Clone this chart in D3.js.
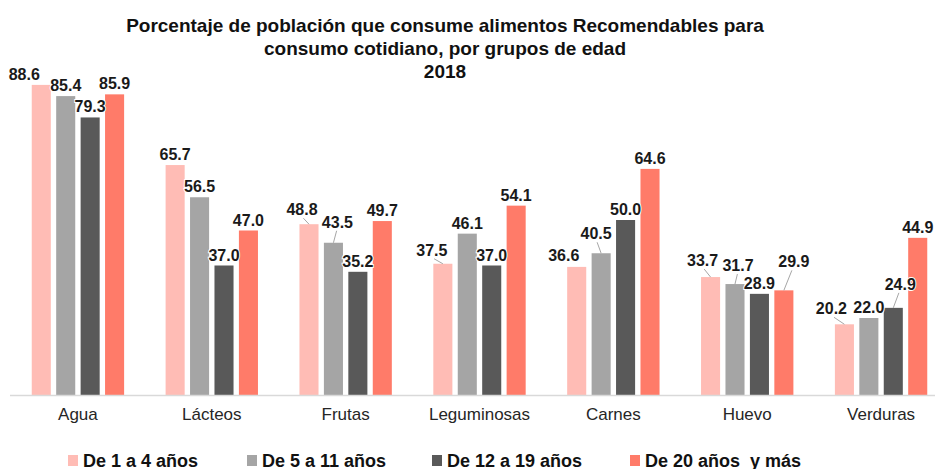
<!DOCTYPE html>
<html>
<head>
<meta charset="utf-8">
<script src="https://cdn.jsdelivr.net/npm/d3@7"></script>
<style>
  body { margin: 0; background: #fff; }
  text { font-family: "Liberation Sans", Arial, sans-serif; }
</style>
</head>
<body>
<div id="root"></div>
<script>
// Data.
const categories = ['Agua', 'Lácteos', 'Frutas', 'Leguminosas', 'Carnes', 'Huevo', 'Verduras'];
const seriesNames = ['De 1 a 4 años', 'De 5 a 11 años', 'De 12 a 19 años', 'De 20 años  y más'];
const age1to4 = [88.6, 65.7, 48.8, 37.5, 36.6, 33.7, 20.2];
const age5to11 = [85.4, 56.5, 43.5, 46.1, 40.5, 31.7, 22.0];
const age12to19 = [79.3, 37.0, 35.2, 37.0, 50.0, 28.9, 24.9];
const age20plus = [85.9, 47.0, 49.7, 54.1, 64.6, 29.9, 44.9];
const titleLines = ['Porcentaje de población que consume alimentos Recomendables para',
  'consumo cotidiano, por grupos de edad', '2018'];

const seriesValues = [age1to4, age5to11, age12to19, age20plus];
const colors = ['#FFBCB5', '#A5A5A5', '#595959', '#FF7B69'];

// Label nudges (layout only) so labels don't collide, like in the original.
const labelNudge = {
  'Agua': [[-17, 0], [0, 0], [0, 0], [0, 0]],
  'Frutas': [[-7, -4], [4, -10], [0, 0], [0, 0]],
  'Leguminosas': [[-11, -3], [0, 0], [0, 0], [0, 0]],
  'Carnes': [[-13, -1], [-5, -9], [0, 0], [0, 0]],
  'Huevo': [[-8, -6], [3, -8], [0, 0], [10, -18]],
  'Verduras': [[-13, -5], [0, 0], [7, -13], [0, 0]]
};

const width = 935;
const height = 469;
const baseY = 395;

const rows = categories.map((c, i) => ({
  cat: c,
  vals: seriesValues.map((s, k) => ({ cat: c, k: k, v: s[i] }))
}));

const x0 = d3.scaleBand()
  .domain(categories)
  .range([11, 948])
  .paddingInner(0.31)
  .paddingOuter(0.155);

const x1 = d3.scaleBand()
  .domain(d3.range(seriesNames.length))
  .range([0, x0.bandwidth()])
  .paddingInner(0.22);

const y = d3.scaleLinear()
  .domain([0, 100])
  .range([baseY, 45]);

const svg = d3.select('#root')
  .append('svg')
  .attr('width', width)
  .attr('height', height);

// Title
svg.append('g')
  .selectAll('text')
  .data(titleLines)
  .enter()
  .append('text')
  .attr('x', 445)
  .attr('y', (d, i) => 32 + i * 23)
  .attr('text-anchor', 'middle')
  .style('font-size', '19px')
  .style('font-weight', 'bold')
  .style('fill', '#111')
  .text(d => d);

// Bars
const groups = svg.selectAll('.group')
  .data(rows)
  .enter()
  .append('g')
  .attr('class', 'group')
  .attr('transform', d => `translate(${x0(d.cat)},0)`);

groups.selectAll('rect')
  .data(d => d.vals)
  .enter()
  .append('rect')
  .attr('x', d => x1(d.k))
  .attr('y', d => y(d.v))
  .attr('width', x1.bandwidth())
  .attr('height', d => y(0) - y(d.v))
  .style('fill', d => colors[d.k]);

// Leader lines and value labels
function nudge(d) {
  const n = labelNudge[d.cat];
  return n ? n[d.k] : [0, 0];
}

groups.selectAll('.leader')
  .data(d => d.vals.filter(v => nudge(v)[1] <= -3))
  .enter()
  .append('line')
  .attr('class', 'leader')
  .attr('x1', d => x1(d.k) + x1.bandwidth() / 2)
  .attr('y1', d => y(d.v))
  .attr('x2', d => x1(d.k) + x1.bandwidth() / 2 + nudge(d)[0] * 0.8)
  .attr('y2', d => y(d.v) - 5 + nudge(d)[1] + 3)
  .style('stroke', '#a6a6a6')
  .style('stroke-width', 1);

groups.selectAll('.val')
  .data(d => d.vals)
  .enter()
  .append('text')
  .attr('class', 'val')
  .attr('x', d => x1(d.k) + x1.bandwidth() / 2 + nudge(d)[0])
  .attr('y', d => y(d.v) - 5 + nudge(d)[1])
  .attr('text-anchor', 'middle')
  .style('font-size', '16px')
  .style('font-weight', 'bold')
  .style('fill', '#1a1a1a')
  .style('stroke', '#fff')
  .style('stroke-width', 2)
  .style('paint-order', 'stroke')
  .text(d => d.v.toFixed(1));

// Baseline axis
svg.append('line')
  .attr('x1', 10)
  .attr('x2', 935)
  .attr('y1', baseY + 0.5)
  .attr('y2', baseY + 0.5)
  .style('stroke', '#d9d9d9')
  .style('stroke-width', 1.5);

// Category labels
svg.append('g')
  .selectAll('text')
  .data(categories)
  .enter()
  .append('text')
  .attr('x', d => x0(d) + x0.bandwidth() / 2)
  .attr('y', 420)
  .attr('text-anchor', 'middle')
  .style('font-size', '17px')
  .style('fill', '#262626')
  .text(d => d);

// Legend
const legendX = [68, 247, 432, 630];
const legend = svg.append('g')
  .selectAll('g')
  .data(seriesNames)
  .enter()
  .append('g')
  .attr('transform', (d, i) => `translate(${legendX[i]},455)`);

legend.append('rect')
  .attr('width', 10)
  .attr('height', 11)
  .style('fill', (d, i) => colors[i]);

legend.append('text')
  .attr('x', 15)
  .attr('y', 11.5)
  .style('font-size', '18px')
  .style('font-weight', 'bold')
  .style('fill', '#111')
  .style('white-space', 'pre')
  .text(d => d);
</script>
</body>
</html>
